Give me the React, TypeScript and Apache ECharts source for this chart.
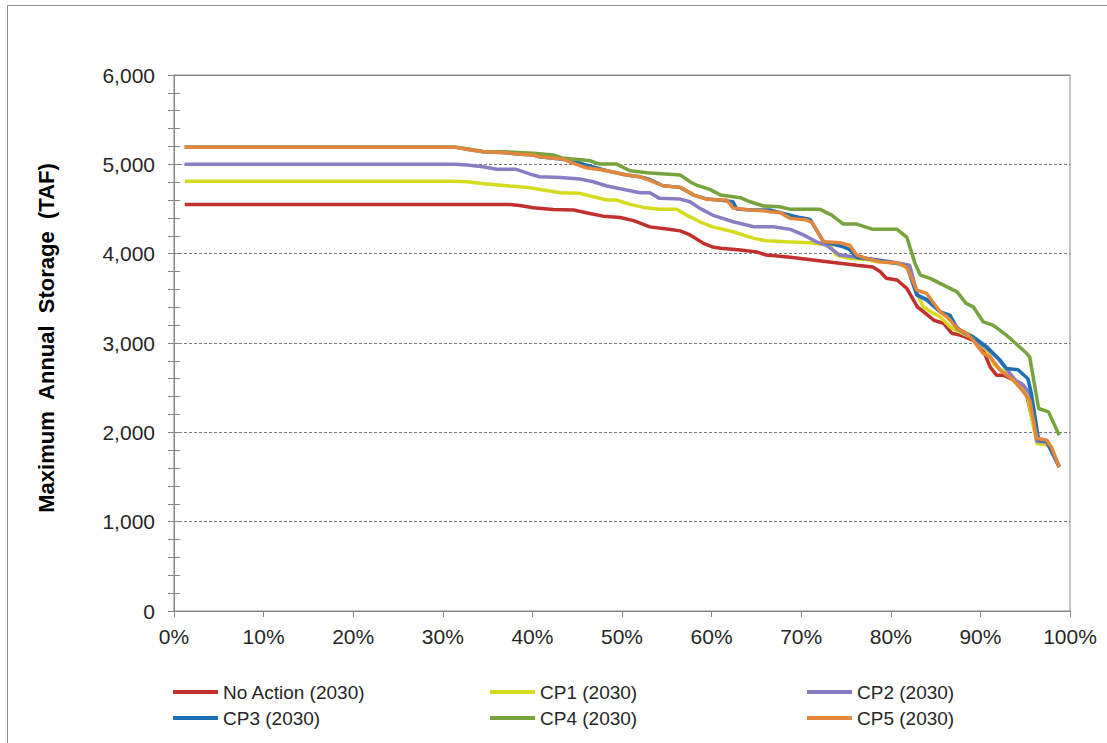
import { useEffect, useRef } from 'react';
import * as echarts from 'echarts';

// Exceedance probability (%) vs. maximum annual storage (TAF)
const noAction2030: [number, number][] = [
  [1.2, 4550], [37.5, 4550], [38.6, 4540], [40.1, 4515], [42.3, 4495], [44.6, 4488],
  [46.4, 4450], [47.9, 4420], [49.8, 4405], [51.3, 4370], [53.1, 4300], [55, 4275],
  [56.5, 4255], [57.6, 4210], [59.1, 4115], [60.1, 4075], [61, 4060], [63.2, 4040],
  [65, 4020], [66.1, 3985], [68.8, 3960], [71.3, 3930], [73.6, 3900], [76.2, 3870],
  [78, 3850], [78.8, 3800], [79.5, 3725], [80.7, 3705], [81.8, 3610], [83, 3400],
  [83.4, 3370], [84.8, 3255], [85.9, 3220], [86.8, 3110], [87.7, 3090], [89.2, 3030],
  [90.3, 2920], [91.1, 2730], [91.8, 2640], [92.6, 2640], [93.7, 2585], [94.6, 2545],
  [95.2, 2400], [96.3, 1930], [97.4, 1910], [98.8, 1610],
];

const cp1_2030: [number, number][] = [
  [1.2, 4810], [31, 4810], [32.7, 4805], [34.9, 4780], [37.5, 4757], [39.4, 4742],
  [41.2, 4712], [43.1, 4682], [45.3, 4675], [46.8, 4637], [48.3, 4600], [49.4, 4600],
  [50.9, 4552], [52.4, 4518], [54.2, 4496], [56.1, 4496], [57.2, 4432], [58.7, 4357],
  [60.1, 4300], [62.4, 4245], [64.7, 4171], [66.1, 4144], [68.4, 4133], [71, 4122],
  [72.1, 4107], [73.2, 4096], [73.9, 3984], [75.4, 3947], [77.3, 3936], [78.4, 3909],
  [81, 3891], [82.1, 3816], [82.8, 3592], [83.6, 3405], [84.8, 3331], [85.5, 3293],
  [86.6, 3181], [87.7, 3125], [89.2, 3051], [90.7, 2920], [91.6, 2750], [92.9, 2659],
  [94, 2547], [95.2, 2435], [96.3, 1875], [97.6, 1856], [98.8, 1613],
];

const cp2_2030: [number, number][] = [
  [1.2, 5000], [31.4, 5000], [32.7, 4992], [34.5, 4973], [36, 4944], [38.2, 4944],
  [40.1, 4880], [40.8, 4861], [43.1, 4852], [45.3, 4835], [46.8, 4805], [48.3, 4757],
  [50.5, 4712], [52, 4682], [53.1, 4682], [54.2, 4619], [56.5, 4611], [57.6, 4581],
  [58.7, 4507], [60.1, 4432], [62.4, 4357], [64.7, 4301], [66.9, 4301], [68.8, 4272],
  [70.3, 4208], [71.7, 4133], [72.8, 4096], [74.3, 3984], [75.8, 3965], [77.3, 3947],
  [80, 3910], [82.1, 3872], [83, 3536], [84, 3480], [85.3, 3368], [86.3, 3293],
  [87.7, 3144], [89.2, 3051], [90.7, 2939], [91.8, 2845], [93.9, 2584], [94.8, 2528],
  [95.6, 2420], [96.3, 1900], [97.4, 1890], [98.8, 1613],
];

const cp3_2030: [number, number][] = [
  [1.2, 5190], [31.5, 5190], [32.7, 5168], [34.5, 5141], [37.1, 5130], [38.3, 5115],
  [40.1, 5104], [40.8, 5085], [43.1, 5059], [44.6, 5040], [46, 4992], [48.3, 4928],
  [50.5, 4880], [52, 4861], [53.1, 4830], [54.6, 4760], [56.5, 4742], [58, 4656],
  [59.5, 4611], [60.9, 4600], [62.4, 4580], [62.8, 4500], [64.3, 4490], [66.5, 4488],
  [68, 4451], [69.9, 4404], [71, 4384], [72.5, 4133], [74.7, 4077], [75.4, 4048],
  [76.2, 3958], [77.3, 3947], [80.7, 3891], [81.8, 3860], [82.9, 3536], [84, 3488],
  [85.5, 3349], [86.6, 3312], [87.4, 3163], [89.2, 3069], [90.7, 2957], [92.2, 2808],
  [92.9, 2715], [94.2, 2700], [95.3, 2600], [95.7, 2430], [96.5, 1912], [97.4, 1900],
  [98.8, 1620],
];

const cp4_2030: [number, number][] = [
  [1.2, 5190], [31.5, 5190], [32.7, 5175], [34.5, 5145], [37.1, 5140], [40.1, 5123],
  [42.3, 5104], [43.5, 5067], [45.7, 5048], [46.4, 5040], [47.5, 5003], [49.4, 5003],
  [50.9, 4928], [52.8, 4906], [56.5, 4880], [57.6, 4805], [58.3, 4768], [59.8, 4720],
  [61, 4656], [62.4, 4637], [63.2, 4626], [64.3, 4581], [65.8, 4533], [67.6, 4525],
  [68.8, 4496], [72.1, 4496], [73.4, 4432], [74.7, 4331], [76.2, 4331], [78, 4272],
  [80.7, 4272], [81.8, 4182], [82.7, 3891], [83.3, 3760], [84.4, 3723], [85.5, 3667],
  [87.4, 3573], [88.4, 3443], [89.2, 3405], [90.3, 3237], [91.4, 3200], [92.9, 3088],
  [95, 2900], [95.5, 2845], [96.5, 2267], [97.6, 2229], [98.8, 1968],
];

const cp5_2030: [number, number][] = [
  [1.2, 5190], [31.5, 5190], [32.7, 5168], [34.5, 5141], [37.1, 5130], [38.3, 5115],
  [40.1, 5104], [40.8, 5085], [43.5, 5056], [44.6, 5011], [46, 4962], [47.9, 4936],
  [48.3, 4928], [50.5, 4880], [52, 4861], [53.1, 4820], [54.6, 4760], [56.5, 4742],
  [58, 4656], [59.5, 4608], [60.9, 4600], [61.7, 4600], [62.4, 4510], [64.3, 4490],
  [65.8, 4480], [66.5, 4470], [67.6, 4462], [68.8, 4395], [70.6, 4376], [71.2, 4350],
  [72.5, 4133], [74.3, 4122], [75.4, 4096], [76.2, 3984], [77.3, 3947], [78.8, 3909],
  [80.7, 3895], [81.8, 3853], [82.9, 3592], [84, 3555], [85.5, 3349], [86.3, 3293],
  [87.4, 3163], [88.5, 3107], [89.2, 3032], [90.3, 2883], [91.1, 2845], [92.2, 2696],
  [93.7, 2584], [94.8, 2453], [95.5, 2360], [96.3, 1931], [97.4, 1912], [98, 1820],
  [98.8, 1613],
];

const seriesNames = [
  'No Action (2030)', 'CP1 (2030)', 'CP2 (2030)',
  'CP3 (2030)', 'CP4 (2030)', 'CP5 (2030)',
];
const seriesData = [noAction2030, cp1_2030, cp2_2030, cp3_2030, cp4_2030, cp5_2030];
const seriesColors = ['#C0302C', '#D5DA1F', '#8B7DC3', '#1F6FB4', '#76A33B', '#E2873C'];

// Y-axis title with widened word spacing
const yAxisTitle = ['Maximum', 'Annual', 'Storage', '(TAF)'].join('\u00a0 ');

const FONT = '"Liberation Sans", Arial, Helvetica, sans-serif';
const AXIS_GREY = '#868686';
const TEXT = '#262626';

const GRID_LEFT = 174;
const GRID_TOP = 75;
const GRID_RIGHT_X = 1070;

export default function App() {
  const ref = useRef<HTMLDivElement>(null);

  useEffect(() => {
    if (!ref.current) return;
    const chart = echarts.init(ref.current, undefined, { renderer: 'svg' });

    const legendColumn = (left: number, names: string[]) => ({
      orient: 'vertical',
      left,
      top: 682,
      padding: 0,
      itemGap: 6,
      itemWidth: 45,
      itemHeight: 4,
      icon: 'rect',
      data: names,
      textStyle: { fontSize: 19, lineHeight: 20, color: TEXT, fontFamily: FONT },
    });

    chart.setOption({
      animation: false,
      backgroundColor: '#ffffff',
      textStyle: { fontFamily: FONT },
      grid: {
        left: GRID_LEFT,
        top: GRID_TOP,
        right: 1107 - GRID_RIGHT_X,
        bottom: 132,
        show: true,
        borderColor: AXIS_GREY,
        borderWidth: 1,
        containLabel: false,
      },
      legend: [
        legendColumn(173, [seriesNames[0], seriesNames[3]]),
        legendColumn(490, [seriesNames[1], seriesNames[4]]),
        legendColumn(807, [seriesNames[2], seriesNames[5]]),
      ],
      graphic: [
        {
          type: 'rect',
          silent: true,
          shape: { x: 7.5, y: 5.5, width: 1200, height: 800 },
          style: { fill: 'none', stroke: '#8c8c8c', lineWidth: 1 },
        },
        {
          // solid top edge of the plot frame
          type: 'line',
          silent: true,
          z: 100,
          shape: { x1: GRID_LEFT, y1: GRID_TOP + 0.5, x2: GRID_RIGHT_X, y2: GRID_TOP + 0.5 },
          style: { stroke: AXIS_GREY, lineWidth: 1 },
        },
        {
          type: 'text',
          x: 46,
          y: 338,
          rotation: Math.PI / 2,
          style: {
            text: yAxisTitle,
            fontSize: 22,
            fontWeight: 'bold',
            fontFamily: FONT,
            fill: '#000000',
            align: 'center',
            verticalAlign: 'middle',
          },
        },
      ],
      xAxis: {
        type: 'value',
        min: 0,
        max: 100,
        interval: 10,
        axisLine: { show: true, lineStyle: { color: AXIS_GREY, width: 1 } },
        axisTick: { show: true, length: 6, lineStyle: { color: AXIS_GREY } },
        axisLabel: {
          formatter: '{value}%',
          fontSize: 21,
          color: TEXT,
          margin: 15,
          fontFamily: FONT,
        },
        splitLine: { show: false },
      },
      yAxis: [
        {
          type: 'value',
          min: 0,
          max: 6000,
          interval: 1000,
          axisLine: { show: true, lineStyle: { color: AXIS_GREY, width: 1 } },
          axisTick: { show: true, length: 6, lineStyle: { color: AXIS_GREY } },
          minorTick: { show: true, splitNumber: 5, length: 6, lineStyle: { color: AXIS_GREY } },
          axisLabel: {
            formatter: (v: number) => v.toLocaleString('en-US'),
            fontSize: 21,
            color: TEXT,
            margin: 19,
            fontFamily: FONT,
          },
          splitLine: {
            show: true,
            lineStyle: { color: '#7a7a7a', type: [3, 2], width: 1 },
          },
        },
        {
          // inner half of the cross-style tick marks
          type: 'value',
          position: 'left',
          offset: 0,
          min: 0,
          max: 6000,
          interval: 1000,
          axisLine: { show: false },
          axisTick: { show: true, inside: true, length: 6, lineStyle: { color: AXIS_GREY } },
          minorTick: { show: true, splitNumber: 5, length: 6, lineStyle: { color: AXIS_GREY } },
          axisLabel: { show: false },
          splitLine: { show: false },
        },
      ],
      series: seriesNames.map((name, i) => ({
        name,
        type: 'line',
        yAxisIndex: 0,
        data: seriesData[i],
        symbol: 'none',
        color: seriesColors[i],
        lineStyle: { width: 3.5, color: seriesColors[i] },
        itemStyle: { color: seriesColors[i] },
      })),
    });

    return () => chart.dispose();
  }, []);

  return (
    <div
      ref={ref}
      style={{ position: 'fixed', left: 0, top: 0, width: 1107, height: 743, background: '#fff' }}
    />
  );
}
